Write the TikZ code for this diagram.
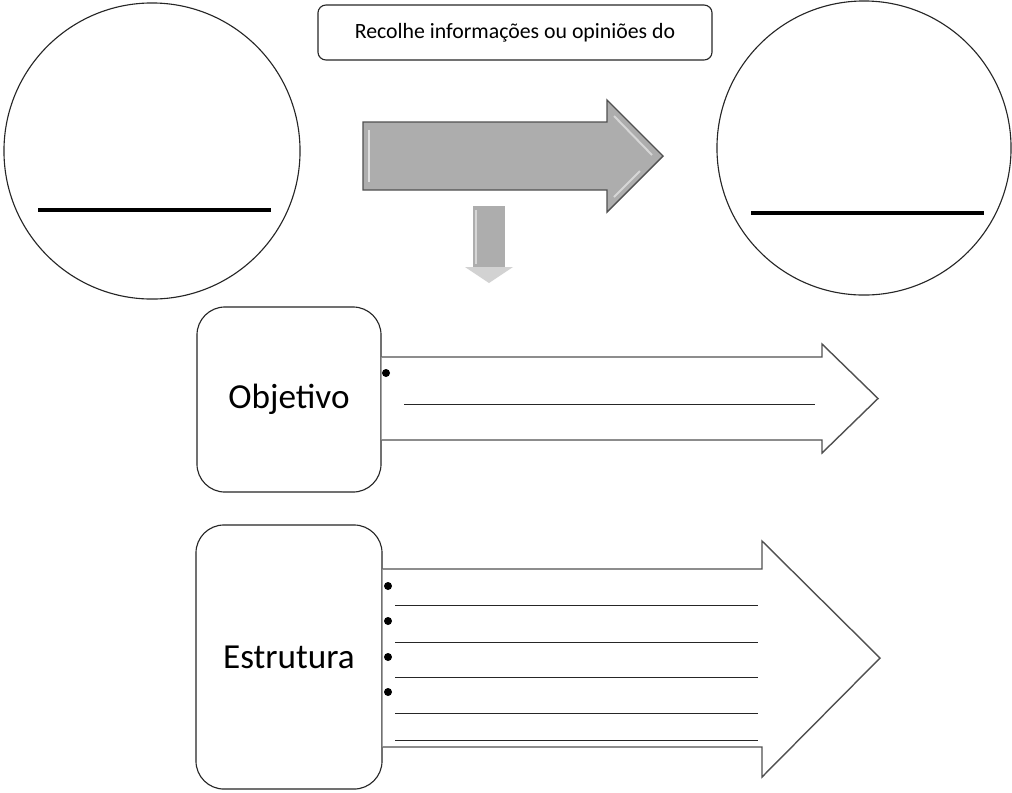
\documentclass[tikz,border=0pt]{standalone}
\usepackage{fontspec}
\setmainfont{Carlito}
\usepackage{tikz}
\usetikzlibrary{arrows}
\definecolor{arrowgray}{HTML}{ADADAD}
\definecolor{edgegray}{HTML}{505050}
\tikzstyle{every picture}=[> = to]

\begin{document}
\begin{tikzpicture}[x=0.025cm,y=-0.025cm,
    disc/.style={draw=black!85,line width=0.8pt,circle,minimum size=7.4cm,inner sep=0pt},
    labelbox/.style={draw=black!85,line width=0.8pt,rounded corners=0.7cm,fill=white,
      minimum width=4.6cm,font=\fontsize{25}{30}\selectfont},
    topicbox/.style={draw=black!85,line width=0.8pt,rounded corners=0.2cm,
      minimum width=9.85cm,minimum height=1.375cm,font=\fontsize{15.5}{18}\selectfont},
    blockarrow/.style={draw=edgegray,line width=1pt,line join=miter,fill=white},
    rule/.style={draw=black!85,line width=0.7pt},
    thickrule/.style={draw=black,line width=3.2pt}]
    \useasboundingbox (0,0) rectangle (1012,792);
    % circles with blank lines
    \node[disc] (leftcircle) at (152,151) {};
    \node[disc,minimum size=7.35cm] (rightcircle) at (864,148) {};
    \coordinate (la) at (38,210);
    \coordinate (lb) at (271,210);
    \coordinate (ra) at (751,213);
    \coordinate (rb) at (984,213);
    \draw[thickrule] (la) -- (lb);
    \draw[thickrule] (ra) -- (rb);
    % top label
    \node[topicbox] (topic) at (515,32.5) {Recolhe informações ou opiniões do};
    % grey arrows
    \draw[blockarrow,fill=arrowgray] (363,122) -- (607,122) -- (607,100) -- (663,156)
      -- (607,212) -- (607,190) -- (363,190) -- cycle;
    \draw[white,opacity=0.6,line width=1.6pt] (369,130) -- (369,182);
    \draw[white,opacity=0.5,line width=1.4pt] (614,116) -- (652,155);
    \draw[white,opacity=0.5,line width=1.4pt] (614,197) -- (640,171);
    \fill[arrowgray] (473,206) -- (505,206) -- (505,267) -- (473,267) -- cycle;
    \draw[white,opacity=0.5,line width=1.2pt] (476,210) -- (476,264);
    \fill[arrowgray!55] (465,267) -- (513,267) -- (489,283) -- cycle;
    % Objetivo
    \node[labelbox,minimum height=4.625cm] (objbox) at (289,399.5) {Objetivo};
    \draw[blockarrow] (objbox.east |- 0,357) -- (822,357) -- (822,344) -- (878,398.5)
      -- (822,453) -- (822,440) -- (objbox.east |- 0,440);
    \fill (386,373) circle (4);
    \coordinate (oa) at (404,404);
    \coordinate (ob) at (815,404);
    \draw[rule] (oa) -- (ob);
    % Estrutura
    \node[labelbox,minimum width=4.65cm,minimum height=6.6cm] (estbox) at (289,657) {Estrutura};
    \draw[blockarrow] (estbox.east |- 0,569) -- (762,569) -- (762,541) -- (880,658)
      -- (762,777) -- (762,747) -- (estbox.east |- 0,747);
    \foreach \y in {586,621,657,692}
      \fill (388,\y) circle (4);
    \foreach \y in {605,642,677,713,740}
      \draw[rule] (395,\y) -- (758,\y);
  \end{tikzpicture}
\end{document}
